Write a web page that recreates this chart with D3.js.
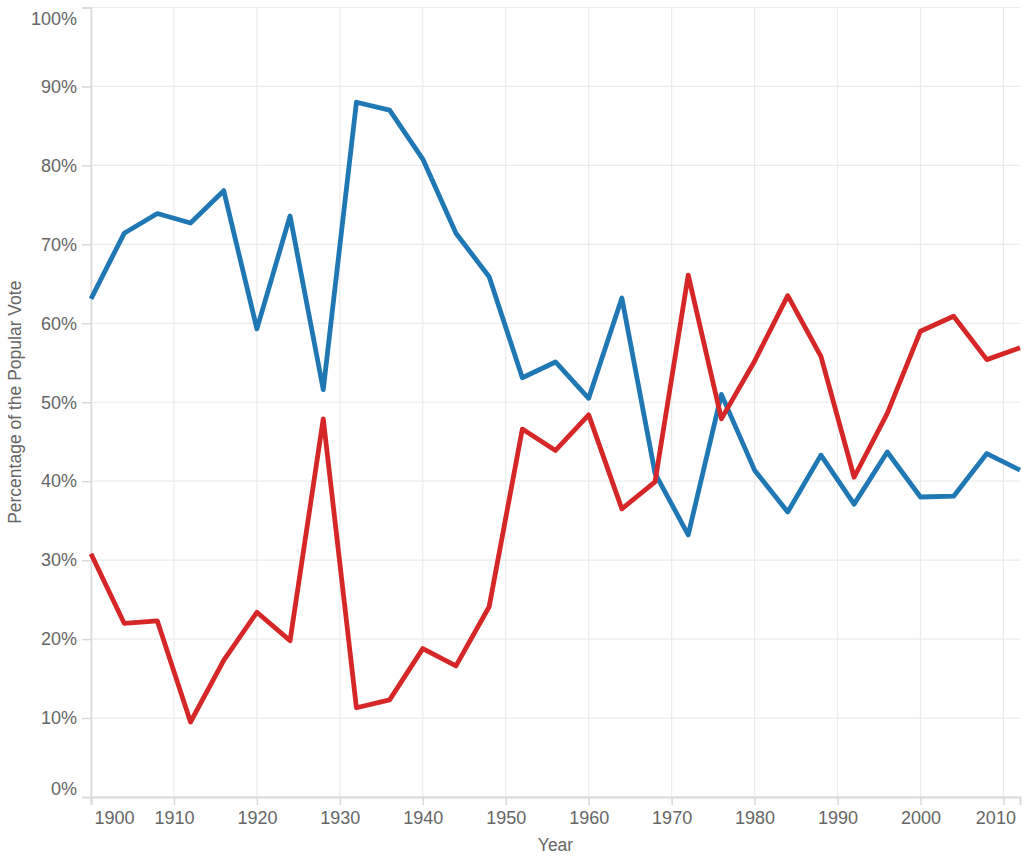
<!DOCTYPE html>
<html>
<head>
<meta charset="utf-8">
<script src="https://cdn.jsdelivr.net/npm/d3@7"></script>
<style>
  html, body { margin: 0; padding: 0; background: #fff; }
  svg { display: block; }
  text { font-family: "Liberation Sans", Arial, sans-serif; fill: #666; }
</style>
</head>
<body>
<svg id="chart" width="1024" height="862"></svg>
<script>
const years = [1900,1904,1908,1912,1916,1920,1924,1928,1932,1936,1940,1944,1948,1952,1956,1960,1964,1968,1972,1976,1980,1984,1988,1992,1996,2000,2004,2008,2012];
const blueValues = [63.1,71.4,73.9,72.7,76.8,59.3,73.6,51.6,88.0,87.0,80.8,71.4,65.9,53.1,55.1,50.5,63.2,41.0,33.2,51.0,41.4,36.1,43.3,37.1,43.7,38.0,38.1,43.5,41.4];
const redValues = [30.8,22.0,22.3,9.5,17.3,23.4,19.8,47.9,11.3,12.3,18.8,16.6,24.1,46.6,43.9,48.4,36.5,39.9,66.1,47.9,55.2,63.5,55.8,40.5,48.6,59.0,60.9,55.4,56.9];
const xTicks = [1900,1910,1920,1930,1940,1950,1960,1970,1980,1990,2000,2010];
const yTicks = [0,10,20,30,40,50,60,70,80,90,100];
const seriesColors = ["#1f77b4", "#d62728"];

const svg = d3.select("#chart");
const mLeft = 91, mRight = 1020, mTop = 7.5, mBottom = 797;

const x = d3.scaleLinear().domain([1900, 2012]).range([mLeft, mRight]);
const y = d3.scaleLinear().domain([0, 100]).range([mBottom, mTop]);

// gridlines
const grid = svg.append("g");
grid.selectAll("line.h").data(yTicks).join("line")
  .attr("class", "h")
  .attr("x1", mLeft).attr("x2", mRight)
  .attr("y1", d => y(d)).attr("y2", d => y(d))
  .attr("stroke", "#ebebeb").attr("stroke-width", 1.2);
grid.selectAll("line.v").data(xTicks).join("line")
  .attr("class", "v")
  .attr("y1", mTop).attr("y2", mBottom)
  .attr("x1", d => x(d)).attr("x2", d => x(d))
  .attr("stroke", "#ebebeb").attr("stroke-width", 1.2);

// y axis
const yAxis = svg.append("g").attr("transform", `translate(${mLeft},0)`)
  .call(d3.axisLeft(y).tickValues(yTicks).tickFormat(d => d + "%").tickSize(9).tickPadding(5));
yAxis.select(".domain").attr("stroke", "#d9d9d9").attr("stroke-width", 1.5);
yAxis.selectAll(".tick line").attr("stroke", "#d9d9d9").attr("stroke-width", 1.5);
yAxis.selectAll(".tick text").style("font-size", "18px").style("fill", "#666")
  .style("font-family", "'Liberation Sans', Arial, sans-serif")
  .attr("dy", d => d === 100 ? "0.95em" : d === 0 ? "-0.15em" : "0.32em");

// x axis
const xAxis = svg.append("g").attr("transform", `translate(0,${mBottom})`)
  .call(d3.axisBottom(x).tickValues(xTicks).tickFormat(d3.format("d")).tickSize(8).tickPadding(6));
xAxis.select(".domain").attr("stroke", "#d9d9d9").attr("stroke-width", 2);
xAxis.selectAll(".tick line").attr("stroke", "#d9d9d9").attr("stroke-width", 1.5);
xAxis.selectAll(".tick text").style("font-size", "18px").style("fill", "#666")
  .style("font-family", "'Liberation Sans', Arial, sans-serif")
  .attr("text-anchor", d => d === 1900 ? "start" : d === 2010 ? "end" : "middle")
  .attr("dx", d => d === 1900 ? 3 : d === 2010 ? 12 : 0);

// lines
const line = d3.line().x((d, i) => x(years[i])).y(d => y(d));
[blueValues, redValues].forEach((vals, k) => {
  svg.append("path").datum(vals)
    .attr("d", line)
    .attr("fill", "none")
    .attr("stroke", seriesColors[k])
    .attr("stroke-width", 4.8)
    .attr("stroke-linejoin", "round")
    .attr("stroke-linecap", "butt");
});

// axis titles
svg.append("text").attr("x", (mLeft + mRight) / 2).attr("y", 851)
  .attr("text-anchor", "middle").style("font-size", "17.5px").text("Year");
svg.append("text").attr("transform", `translate(21,${(mTop + mBottom) / 2}) rotate(-90)`)
  .attr("text-anchor", "middle").style("font-size", "17.5px").text("Percentage of the Popular Vote");
</script>
</body>
</html>
